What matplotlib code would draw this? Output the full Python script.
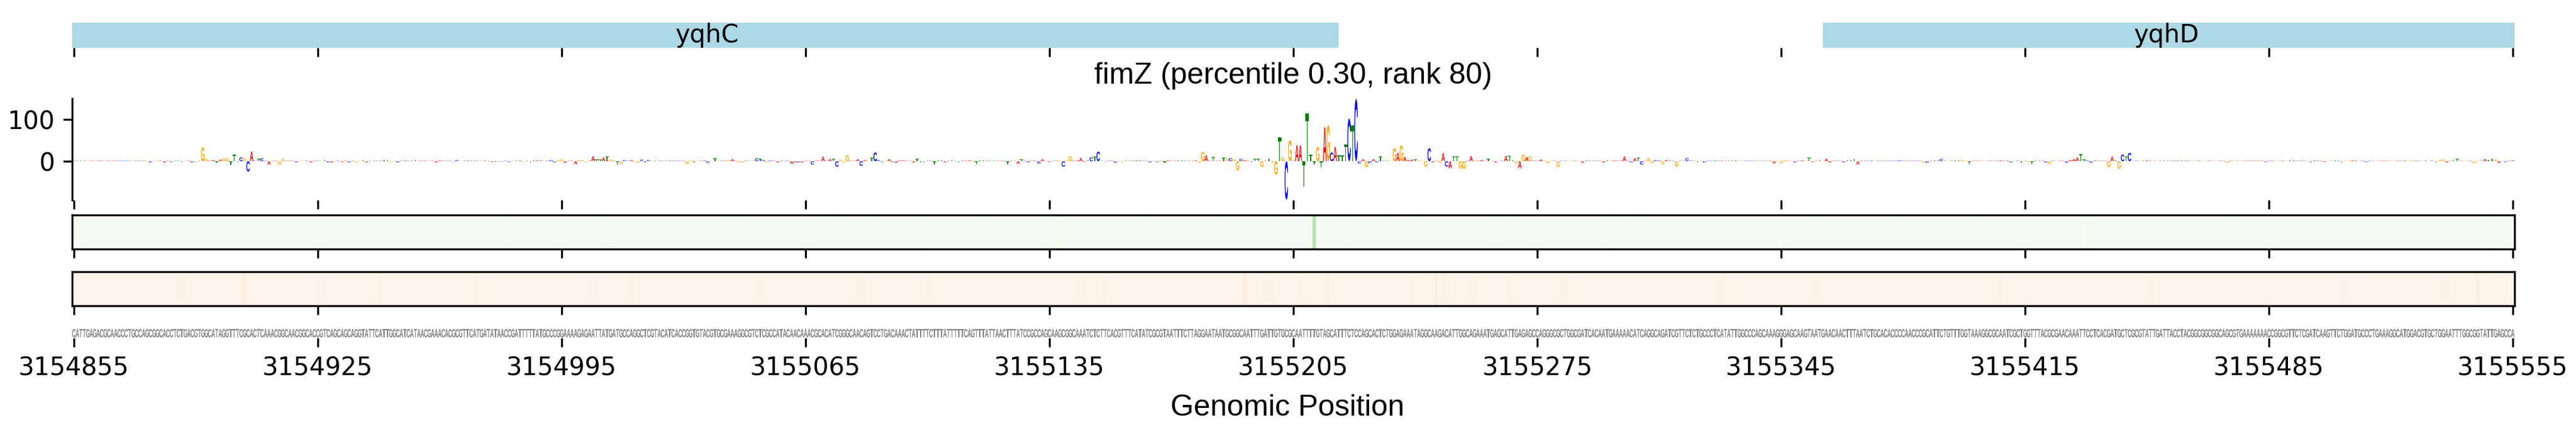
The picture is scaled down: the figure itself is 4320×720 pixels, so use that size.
import numpy as np
import matplotlib
matplotlib.use('Agg')
import matplotlib.pyplot as plt
from matplotlib.patheffects import AbstractPathEffect
from matplotlib.transforms import Affine2D

title = 'fimZ (percentile 0.30, rank 80)'
start = 3154855
end = 3155555
tick_positions = [3154855, 3154925, 3154995, 3155065, 3155135, 3155205, 3155275, 3155345, 3155415, 3155485, 3155555]

gene_names = ['yqhC', 'yqhD']
gene_starts = [3154854.5, 3155357.0]
gene_ends = [3155218.0, 3155555.5]
gene_label_pos = [3155036.75, 3155455.7]

sequence = (
    'CATTGAGACGCAACCCTGCCAGCGGCACCTCTGACGTGGCATAGGTTTCGCACTCAAACGGCAACGGCACCGTCAGCAGCAGGTATTCATTGGCATCATAACGAAACACGCGTTCAT'
    'GATATAACCGATTTTTATGCCCGGAAAAGAGAATTATGATGCCAGGCTCGTACATCACCGGTGTACGTGCGAAAGGCGTCTCGCCATACAACAAACGCACATCGGGCAACAGTCCTG'
    'ACAAACTATTTTCTTTATTTTTCAGTTTATTAACTTTATCCGCCAGCAAGCGGCAAATCTCTTCACGTTTCATATCGCGTAATTTCTTAGGAATAATGCGGCAATTTGATTGTGCGCA'
    'ATTTTGTAGCATTTCTCCAGCACTCTGGAGAAATAGGCAAGACATTGGCAGAAATGAGCATTGAGAGCCAGGGCGCTGGCGATCACAATGAAAAACATCAGGCAGATCGTTCTCTGC'
    'CCTCATATTGGCCCAGCAAAGGGAGCAAGTAATGAACAACTTTAATCTGCACACCCCAACCCGCATTCTGTTTGGTAAAGGCGCAATCGCTGGTTTACGCGAACAAATTCCTCACG'
    'ATGCTCGCGTATTGATTACCTACGGCGGCGGCAGCGTGAAAAAAACCGGCGTTCTCGATCAAGTTCTGGATGCCCTGAAAGGCATGGACGTGCTGGAATTTGGCGGTATTGAGCCA'
)

# attribution read off the logo, everything not listed sits at background_level
background_level = 1.0
logo_pos = [22, 26, 28, 31, 34, 35, 37, 38, 40, 41, 42, 43, 44, 45, 46, 47, 48, 49, 50, 51, 53, 54, 56, 59, 60, 64, 68,
            72, 73, 74, 77, 78, 79, 81, 84, 89, 91, 93, 98, 104, 105, 109, 110,
            120, 121, 122, 123, 125, 129, 131, 133, 137, 138, 139, 140, 141, 144, 145, 147, 149, 150, 151, 152, 153, 154,
            156, 157, 158, 160, 161, 162, 163, 164, 165, 176, 177, 178, 181, 182, 184, 187, 189, 191, 192, 196, 197, 198,
            199, 200, 202, 206, 207, 208, 209, 212, 213, 215, 217, 218, 219, 220, 221, 222, 225, 226, 227, 229, 230, 231, 232,
            234, 235, 236, 237, 238, 241, 242, 243, 244, 247, 250, 252, 254, 257, 259, 260, 261, 263, 265, 268, 271, 272,
            274, 275, 277, 278, 280, 283, 284, 285, 286, 288, 289, 290, 291, 292, 293, 294, 296, 299, 301, 305, 309, 311,
            312, 313, 314, 322, 323, 324, 325, 327, 330, 331, 332, 333, 334, 335, 336, 338, 339, 340, 341, 343, 344, 345,
            346, 347, 348, 349, 351, 352, 353, 354, 355, 356, 357, 358, 359, 360, 361, 362, 363, 364, 365, 366, 367, 368,
            369, 370, 371, 372, 373, 374, 375, 379, 380, 381, 382, 383, 384, 385, 388, 389, 390, 392, 393, 394, 395, 396,
            397, 398, 399, 401, 402, 404, 406, 408, 411, 412, 414, 415, 416, 417, 418, 421, 423, 426, 433, 439, 442, 445,
            447, 448, 449, 450, 452, 453, 454, 455, 456, 457, 460, 463, 466, 468,
            488, 490, 491, 494, 496, 498, 499, 501, 503, 504, 508, 511, 512, 524, 530, 531, 532, 536, 542, 544, 553, 556,
            559, 560, 561, 562, 566, 567, 572, 573, 574, 575, 576, 577, 578, 579, 584, 585, 587, 588, 589, 590, 595, 618,
            621, 629, 642, 646, 649, 651, 654, 658, 671, 678, 679, 680, 681, 683, 684, 689, 692, 693, 694, 695, 696, 698, 700]
logo_val = [-3, -3, -2, -2, -3, -2, 33, 6, 3, -5, 4, 7, 7, -9, 16, -2, 9, 7, -25, 23, 5, 7, -8, -8, 6, -3, -3,
            3, -3, -3, -2, 2, -3, -3, -3, 3, -2, -3, 3, -3, 2, -2, 3,
            -2, -2, -1, -1, -2, -2, -3, 2, 3, -3, 3, 5, -4, -7, 3, -2, 12, 4, 4, 9, 11, 4,
            -9, -7, 3, 3, -2, -3, 4, -3, 3, -7, 2, -3, 2, -4, 7, 3, 5, -3, -3, 7, 5, 3,
            -3, 2, -3, -6, -3, -3, -3, -8, 3, 11, 5, 5, -13, 4, -3, 14, 5, -11, 3, 9, 21, 3, -3,
            5, -2, -4, 2, 2, -3, 5, -2, -3, -7, -3, 3, -2, 2, -7, 2, 2, 2, 1, -7, -6, 4,
            -3, 3, -6, 5, -2, 2, -13, 2, 12, 2, 8, -2, 3, 9, 12, 23, -2, -4, -2, 2, -3, -2,
            2, -5, 2, 2, -4, 22, 14, 10, 9, 7, 7, 5, -22, 6, 3, -2, 5, 5, -14, 6, -2, -32,
            57, 9, -92, 50, 38, 38, -61, 114, 15, -7, 34, -14, 81, 86, 21, 34, 14, 14, 40, 102, 85, 149,
            -6, 5, -14, -5, 5, -3, 12, 31, 20, 38, 10, 3, 4, 4, -13, 31, -3, -4, 19, -13, -17, 12,
            12, -18, -18, 12, 2, 3, 5, -3, 13, 13, -6, -17, 16, 10, 12, 4, -5, -14, -4, -3, 2, 11,
            -3, 7, 9, -8, 7, -5, 3, 2, -7, 3, -13, 7, -2, -3,
            -5, -5, 3, -3, 2, 9, -2, 3, 6, -3, -3, 6, -8, 2, 1, -4, -4, 6, 3, -7, 2, -3,
            -3, 2, -2, -7, -3, -7, -4, 3, 5, 9, 17, 4, 2, -4, -14, 11, -18, 16, 11, 20, 2, -4,
            1, -2, -2, -2, 2, -3, 2, -2, 2, -3, 3, 5, -3, 3, 5, -5, 5, 3, 6, 5, -4, -2, 2]

green_pos = [125, 152, 153, 186, 190, 218, 220, 231, 244, 262, 282, 284, 308, 329, 345, 354, 356, 364, 366, 377, 386,
             408, 414, 440, 442, 448, 451, 500, 524, 547, 578, 620, 693, 694]
green_val = [0.02, 0.02, 0.02, 0.025, 0.025, 0.025, 0.025, 0.02, 0.02, 0.02, 0.03, 0.025, 0.02, 0.025, 0.025, 0.02, 0.3,
             0.02, 0.02, 0.025, 0.02, 0.02, 0.02, 0.02, 0.02, 0.025, 0.02, 0.025, 0.02, 0.025, 0.035, 0.02, 0.025, 0.025]
green_floor = 0.01

orange_pos = [31, 49, 71, 88, 115, 149, 160, 197, 226, 245, 289, 296, 336, 343, 352, 360, 384, 391, 393, 402, 412, 428,
              473, 500, 553, 596, 652, 681, 690]
orange_val = [0.025, 0.07, 0.025, 0.025, 0.025, 0.025, 0.025, 0.025, 0.025, 0.025, 0.025, 0.025, 0.06, 0.025, 0.025, 0.045,
              0.025, 0.06, 0.045, 0.03, 0.03, 0.035, 0.025, 0.025, 0.025, 0.025, 0.02, 0.025, 0.045]
orange_floor = 0.015

letter_colors = {'A': 'red', 'C': 'blue', 'G': 'orange', 'T': 'green'}


class FitGlyph(AbstractPathEffect):
    # logo letters fill their box, so stretch the text glyph to it at draw time
    def __init__(self, ax, x0, x1, y0, y1):
        super().__init__()
        self.ax = ax
        self.box = [(x0, y0), (x1, y1)]

    def draw_path(self, renderer, gc, tpath, affine, rgbFace=None):
        (a, b), (c, d) = self.ax.transData.transform(self.box)
        ext = tpath.get_extents()
        fit = Affine2D().translate(-ext.x0, -ext.y0).scale((c - a) / ext.width, (d - b) / ext.height).translate(a, b)
        renderer.draw_path(gc, tpath, fit, rgbFace)


def glyph(ax, pos, letter, low, high, color):
    ax.text(pos, 0, letter, fontsize=3, family='Liberation Sans', weight='bold', color=color, ha='center',
            clip_on=False, path_effects=[FitGlyph(ax, pos - 0.5, pos + 0.5, low, high)])


def panel(top, bottom):
    # rows are laid out in picture pixels
    ax = fig.add_axes([121 / 4320, 1 - bottom / 720, 4096 / 4320, (bottom - top) / 720])
    ax.set_xlim(start - 0.5, end + 0.5)
    ax.set_xticks(tick_positions)
    ax.set_xticklabels([])
    return ax


plt.rcParams['font.size'] = 10
fig = plt.figure(figsize=(14.4, 2.4), dpi=300)

# gene track
ax_gene = panel(38, 80)
ax_gene.set_ylim(0, 1)
ax_gene.set_yticks([])
for s in ['top', 'right', 'left', 'bottom']:
    ax_gene.spines[s].set_visible(False)
for name, g0, g1, g_x in zip(gene_names, gene_starts, gene_ends, gene_label_pos):
    ax_gene.barh(0.5, g1 - g0, left=g0, height=1, color='lightblue')
    ax_gene.text(g_x, 0.5, name, ha='center', va='center')

# attribution logo
ax_logo = panel(165, 335)
ax_logo.set_ylim(-93, 150)
ax_logo.set_yticks([0, 100])
ax_logo.set_title(title, fontsize=12, family='Liberation Sans')
for s in ['top', 'right', 'bottom']:
    ax_logo.spines[s].set_visible(False)
heights = np.full(len(sequence), background_level)
heights[logo_pos] = logo_val
for i, letter in enumerate(sequence):
    glyph(ax_logo, start + i, letter, min(heights[i], 0), max(heights[i], 0), letter_colors[letter])

# heat strips
green_row = np.full(len(sequence), green_floor)
green_row[green_pos] = green_val
orange_row = np.full(len(sequence), orange_floor)
orange_row[orange_pos] = orange_val
for top, bottom, row, cmap in [(360, 417, green_row, 'Greens'), (455, 512, orange_row, 'Oranges')]:
    ax_strip = panel(top, bottom)
    ax_strip.imshow(row[np.newaxis, :], cmap=cmap, vmin=0, vmax=1, aspect='auto',
                    extent=[start - 0.5, end + 0.5, 0, 1], interpolation='nearest')
    ax_strip.set_yticks([])

# sequence row
ax_seq = panel(551, 566)
ax_seq.set_ylim(0, 1)
ax_seq.set_yticks([])
for s in ['top', 'right', 'left', 'bottom']:
    ax_seq.spines[s].set_visible(False)
for i, letter in enumerate(sequence):
    glyph(ax_seq, start + i, letter, 0.07, 1, 'gray')
ax_seq.set_xticklabels([str(t) for t in tick_positions])
ax_seq.set_xlabel('Genomic Position', fontsize=12, family='Liberation Sans', x=0.4975, labelpad=5.5)

fig.savefig('out.png', dpi=300)
